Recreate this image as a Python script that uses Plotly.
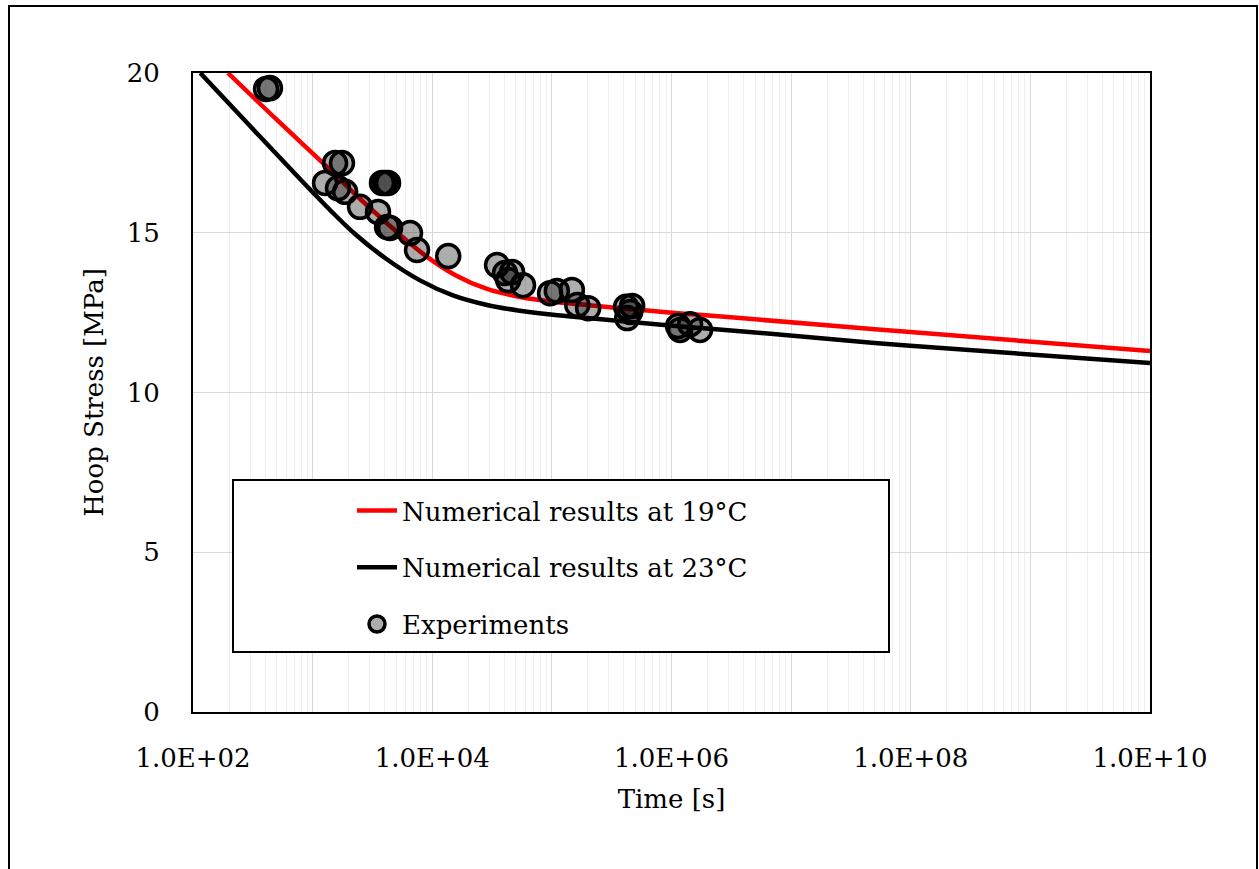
import plotly.graph_objects as go

# Numerical creep-rupture curves (time in s, hoop stress in MPa)
t_19 = [196, 514, 1270, 2350, 4440, 8380, 15500, 28700, 54200, 102000,
        197000, 372000, 702000, 1.35e6, 3.75e6, 9.9e7, 1e10]
s_19 = [20.0, 18.50, 17.12, 16.15, 15.21, 14.34, 13.68, 13.24, 12.99, 12.84,
        12.74, 12.64, 12.55, 12.46, 12.33, 11.89, 11.30]

t_23 = [115, 300, 785, 1400, 2260, 4030, 7900, 14900, 28700, 54200,
        102000, 197000, 372000, 1.35e6, 3.75e6, 9.9e7, 1e10]
s_23 = [20.0, 18.34, 16.68, 15.71, 14.96, 14.21, 13.51, 13.04, 12.74, 12.56,
        12.43, 12.33, 12.24, 12.05, 11.92, 11.46, 10.92]

# Experimental failure points
t_exp = [408, 440, 1540, 1760, 1270, 3800, 4030, 4270, 1630, 1870, 2490, 3520,
         4190, 4440, 6520, 7460, 13600, 34800, 40600, 46500, 43100, 57400,
         96600, 110000, 147000, 163000, 201000, 417000, 469000, 426000, 451000,
         1.135e6, 1.18e6, 1.43e6, 1.73e6]
s_exp = [19.50, 19.53, 17.18, 17.18, 16.56, 16.56, 16.56, 16.56, 16.40, 16.28,
         15.81, 15.65, 15.18, 15.15, 14.99, 14.46, 14.27, 13.99, 13.74, 13.77,
         13.52, 13.36, 13.11, 13.18, 13.21, 12.74, 12.64, 12.68, 12.71, 12.33,
         12.52, 12.08, 11.96, 12.14, 11.96]

x_tickvals = [1e2, 1e3, 1e4, 1e5, 1e6, 1e7, 1e8, 1e9, 1e10]
x_ticktext = ["1.0E+02", "", "1.0E+04", "", "1.0E+06", "", "1.0E+08", "", "1.0E+10"]
y_tickvals = [0, 5, 10, 15, 20]

FONT = "DejaVu Serif"

fig = go.Figure()
fig.add_trace(go.Scatter(
    x=t_19, y=s_19, mode="lines", name="Numerical results at 19°C",
    line=dict(color="#ff0000", width=4.5, shape="spline", smoothing=1.0),
    legendgroup="a"))
fig.add_trace(go.Scatter(
    x=t_23, y=s_23, mode="lines", name="Numerical results at 23°C",
    line=dict(color="#000000", width=4.5, shape="spline", smoothing=1.0),
    legendgroup="b"))
fig.add_trace(go.Scatter(
    x=t_exp, y=s_exp, mode="markers", name="Experiments",
    marker=dict(symbol="circle", size=23, color="rgba(0,0,0,0.32)",
                line=dict(color="#000000", width=3.5)),
    legendgroup="c"))

# legend frame
fig.add_shape(type="rect", xref="paper", yref="paper",
              x0=(233 - 193) / 957, x1=(889 - 193) / 957,
              y0=(712 - 652) / 639, y1=(712 - 480) / 639,
              line=dict(color="black", width=2), fillcolor="white",
              layer="above")
# outer chart frame
fig.add_shape(type="rect", xref="paper", yref="paper",
              x0=(9 - 193) / 957, x1=(1257 - 193) / 957,
              y0=-0.5, y1=(712 - 6) / 639,
              line=dict(color="black", width=2), fillcolor="rgba(0,0,0,0)",
              layer="above")

fig.update_layout(
    width=1259, height=869,
    margin=dict(l=193, r=109, t=73, b=157),
    paper_bgcolor="white", plot_bgcolor="white",
    font=dict(family=FONT, size=26, color="black"),
    showlegend=True,
    legend=dict(x=(352 - 193) / 957, y=(712 - 487) / 639,
                xanchor="left", yanchor="top",
                bgcolor="rgba(0,0,0,0)", borderwidth=0,
                traceorder="grouped", tracegroupgap=20,
                font=dict(family=FONT, size=26, color="black"),
                itemwidth=40),
    xaxis=dict(type="log", range=[2, 10],
               tickvals=x_tickvals, ticktext=x_ticktext,
               showgrid=True, gridcolor="#d9d9d9", gridwidth=1,
               minor=dict(showgrid=True, gridcolor="#efefef", gridwidth=1,
                          dtick="D1"),
               showline=True, linecolor="black", linewidth=2, mirror=True,
               ticks="", ticklabelstandoff=22,
               title=dict(text="Time [s]", standoff=18,
                          font=dict(family=FONT, size=26)),
               zeroline=False),
    yaxis=dict(range=[0, 20], tickvals=y_tickvals,
               showgrid=True, gridcolor="#d9d9d9", gridwidth=1,
               showline=True, linecolor="black", linewidth=2, mirror=True,
               ticks="", ticklabelstandoff=26,
               title=dict(text="Hoop Stress [MPa]", standoff=16,
                          font=dict(family=FONT, size=26)),
               zeroline=False),
)

fig.write_html("out.html")
